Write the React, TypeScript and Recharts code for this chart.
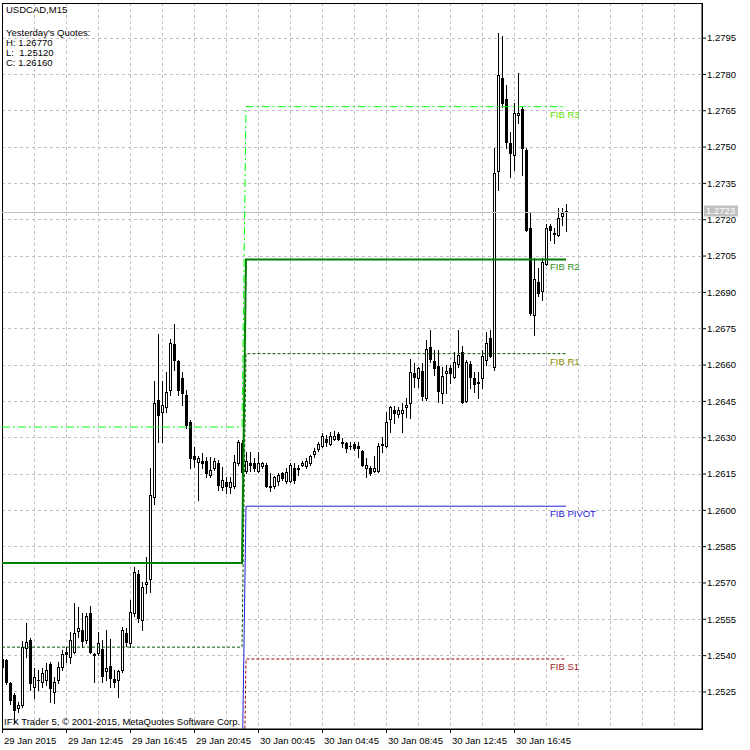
import React from "react";
import {
  ComposedChart,
  Bar,
  Line,
  XAxis,
  YAxis,
  CartesianGrid,
  ReferenceLine,
  ReferenceArea,
} from "recharts";

// USDCAD M15 candles, 29 Jan 08:45 .. 30 Jan 20:15
const opens = [
  1.25385, 1.25381, 1.25287, 1.25236, 1.25183, 1.25195, 1.25431, 1.25464, 1.2527, 1.25299,
  1.25291, 1.25299, 1.25365, 1.25249, 1.25299, 1.25352, 1.25415, 1.25394, 1.25415, 1.25501,
  1.25505, 1.25464, 1.25575, 1.25406, 1.25411, 1.25427, 1.25336, 1.25356, 1.25303, 1.25299,
  1.2534, 1.25493, 1.25452, 1.25575, 1.25736, 1.25546, 1.25695, 1.25716, 1.26054, 1.26455,
  1.26406, 1.26426, 1.26496, 1.26686, 1.26616, 1.26546, 1.26476, 1.26364, 1.26223, 1.26199,
  1.26203, 1.26203, 1.26145, 1.26174, 1.26195, 1.26096, 1.26117, 1.26096, 1.261, 1.26195,
  1.26278, 1.26162, 1.26195, 1.26195, 1.26162, 1.26182, 1.26186, 1.261, 1.261, 1.26121,
  1.26154, 1.26121, 1.26121, 1.26174, 1.26174, 1.26186, 1.26182, 1.26195, 1.26232, 1.26252,
  1.26265, 1.26294, 1.26273, 1.26294, 1.26314, 1.26282, 1.26278, 1.26265, 1.26273, 1.26265,
  1.26244, 1.26174, 1.26174, 1.26162, 1.26162, 1.26273, 1.26265, 1.26377, 1.26414, 1.26397,
  1.26401, 1.26426, 1.26443, 1.26567, 1.26546, 1.26575, 1.26463, 1.26674, 1.26616, 1.26595,
  1.26484, 1.26567, 1.26587, 1.2655, 1.26604, 1.26653, 1.26451, 1.26604, 1.26546, 1.26529,
  1.26546, 1.2662, 1.26711, 1.26591, 1.27401, 1.27785, 1.27698, 1.27516, 1.27467, 1.27632,
  1.27657, 1.27488, 1.27165, 1.26806, 1.26942, 1.26905, 1.27017, 1.27174, 1.27145, 1.27136,
  1.27215, 1.27236,
];
const highs = [
  1.25393, 1.25385, 1.25291, 1.25244, 1.25208, 1.2546, 1.25534, 1.25472, 1.25348, 1.2534,
  1.25348, 1.25369, 1.25373, 1.25311, 1.25373, 1.25423, 1.25435, 1.25497, 1.25617, 1.256,
  1.25575, 1.25575, 1.25604, 1.25411, 1.25497, 1.25464, 1.25505, 1.25468, 1.2534, 1.2534,
  1.25517, 1.25513, 1.25629, 1.25765, 1.25753, 1.25703, 1.25806, 1.26174, 1.26534, 1.26728,
  1.26534, 1.26571, 1.26707, 1.2677, 1.2662, 1.26571, 1.26496, 1.26372, 1.2626, 1.26223,
  1.26236, 1.26219, 1.26219, 1.26215, 1.26207, 1.26178, 1.26137, 1.26137, 1.26228, 1.2629,
  1.2629, 1.2624, 1.2624, 1.26215, 1.2624, 1.26199, 1.26195, 1.26154, 1.26141, 1.26154,
  1.26158, 1.26174, 1.26195, 1.26195, 1.26186, 1.26203, 1.26215, 1.26228, 1.26257, 1.26282,
  1.26319, 1.2631, 1.26323, 1.26327, 1.26323, 1.26298, 1.26282, 1.26282, 1.26282, 1.26282,
  1.26248, 1.26215, 1.26182, 1.26223, 1.26278, 1.26302, 1.26406, 1.2643, 1.2643, 1.26426,
  1.26443, 1.26463, 1.26624, 1.26608, 1.26591, 1.26608, 1.26703, 1.26744, 1.26662, 1.26662,
  1.26591, 1.266, 1.266, 1.26654, 1.26744, 1.26678, 1.2662, 1.26616, 1.26571, 1.26571,
  1.26662, 1.26736, 1.26744, 1.27496, 1.27971, 1.27958, 1.27756, 1.27562, 1.27682, 1.27806,
  1.27665, 1.27496, 1.27227, 1.27041, 1.27, 1.27041, 1.27182, 1.27182, 1.27165, 1.27248,
  1.27248, 1.27265,
];
const lows = [
  1.25332, 1.25282, 1.25199, 1.2512, 1.25167, 1.25187, 1.25393, 1.25257, 1.25224, 1.25257,
  1.2527, 1.25278, 1.25208, 1.25204, 1.25287, 1.2534, 1.25373, 1.25369, 1.25411, 1.25476,
  1.25435, 1.25452, 1.25411, 1.25291, 1.25402, 1.25291, 1.25299, 1.2527, 1.2527, 1.25228,
  1.25332, 1.25439, 1.25435, 1.25563, 1.25538, 1.25505, 1.25658, 1.25662, 1.26025, 1.26282,
  1.26282, 1.26406, 1.26476, 1.26579, 1.26476, 1.26435, 1.26339, 1.26174, 1.26178, 1.26042,
  1.26174, 1.26137, 1.26137, 1.26166, 1.26083, 1.26083, 1.26071, 1.26071, 1.26092, 1.26186,
  1.26145, 1.26154, 1.26162, 1.26162, 1.26158, 1.26174, 1.26096, 1.26079, 1.26092, 1.26104,
  1.26125, 1.26112, 1.26117, 1.26112, 1.26145, 1.26182, 1.26174, 1.26186, 1.26219, 1.26244,
  1.26261, 1.26265, 1.26269, 1.2629, 1.2629, 1.26261, 1.2624, 1.26252, 1.26248, 1.26219,
  1.26182, 1.26137, 1.26145, 1.26158, 1.26158, 1.2624, 1.26261, 1.26323, 1.2636, 1.26385,
  1.26323, 1.26385, 1.26381, 1.26509, 1.26509, 1.26455, 1.26455, 1.26612, 1.26558, 1.26447,
  1.26443, 1.26484, 1.26525, 1.26546, 1.26591, 1.26443, 1.26447, 1.26505, 1.26488, 1.26463,
  1.26505, 1.266, 1.26633, 1.26579, 1.27322, 1.27665, 1.27496, 1.27376, 1.27405, 1.27599,
  1.27384, 1.27153, 1.26806, 1.26723, 1.26885, 1.26868, 1.27013, 1.27116, 1.27103, 1.27132,
  1.27178, 1.27153,
];
const closes = [
  1.25352, 1.25291, 1.25216, 1.25175, 1.25195, 1.25435, 1.25456, 1.25287, 1.25311, 1.25301,
  1.25328, 1.2534, 1.25266, 1.25291, 1.25352, 1.25406, 1.25406, 1.25464, 1.25493, 1.25513,
  1.2546, 1.25563, 1.25415, 1.25404, 1.25452, 1.25315, 1.25348, 1.25307, 1.25291, 1.25336,
  1.25505, 1.25456, 1.25579, 1.25745, 1.25555, 1.25683, 1.25703, 1.26063, 1.26443, 1.26393,
  1.26435, 1.26488, 1.2669, 1.2662, 1.26496, 1.26484, 1.26352, 1.26215, 1.26211, 1.26215,
  1.26195, 1.26154, 1.26166, 1.26203, 1.26104, 1.26125, 1.261, 1.26117, 1.26199, 1.26282,
  1.2616, 1.26203, 1.26186, 1.26174, 1.26195, 1.26195, 1.261, 1.26096, 1.26137, 1.26145,
  1.26133, 1.26158, 1.26186, 1.26125, 1.26172, 1.26195, 1.26203, 1.26223, 1.26244, 1.26273,
  1.26306, 1.26282, 1.26306, 1.26306, 1.26294, 1.2628, 1.26257, 1.26267, 1.26257, 1.26257,
  1.26186, 1.26186, 1.26154, 1.26174, 1.26265, 1.26271, 1.26364, 1.26426, 1.26401, 1.26414,
  1.26414, 1.26435, 1.26571, 1.2655, 1.26587, 1.26472, 1.26666, 1.26624, 1.26587, 1.26492,
  1.26554, 1.26575, 1.26567, 1.26612, 1.26641, 1.26447, 1.26612, 1.2655, 1.26521, 1.26527,
  1.26637, 1.2669, 1.26637, 1.27393, 1.27797, 1.27682, 1.27521, 1.27475, 1.2764, 1.2764,
  1.27496, 1.27157, 1.26814, 1.26955, 1.26897, 1.27025, 1.27165, 1.27157, 1.27143, 1.27207,
  1.27227, 1.2723,
];

// Fibonacci pivot levels per day: R3, R2, R1, Pivot, S1
const levelKeys = ["r3", "r2", "r1", "pp", "s1"];
const levelNames = ["FIB R3", "FIB R2", "FIB R1", "FIB PIVOT", "FIB S1"];
const levels29Jan = [1.26344, 1.25782, 1.25435, 1.24875, 1.24314];
const levels30Jan = [1.27667, 1.27036, 1.26647, 1.26017, 1.25386];
const firstBar30Jan = 61;

const priceTicks = [
  1.2525, 1.254, 1.2555, 1.257, 1.2585, 1.26, 1.2615, 1.263, 1.2645, 1.266,
  1.2675, 1.269, 1.2705, 1.272, 1.2735, 1.275, 1.2765, 1.278, 1.2795,
];
const timeLabels = [
  "29 Jan 2015", "29 Jan 12:45", "29 Jan 16:45", "29 Jan 20:45", "30 Jan 00:45",
  "30 Jan 04:45", "30 Jan 08:45", "30 Jan 12:45", "30 Jan 16:45",
];
const quoteLines = ["Yesterday's Quotes:", "H: 1.26770", "L:  1.25120", "C: 1.26160"];
const bidPrice = 1.2723;

const SLOTS = 175;
const Y_MIN = 1.25097;
const Y_MAX = 1.28095;
const FONT = "'Liberation Sans', Arial, sans-serif";
const FS = 9.5;
const LABEL_BAR = 137;

const levelStyle = [
  { stroke: "#00ff00", width: 1, dash: "8 3 2 3", text: "#66e000" },
  { stroke: "#008000", width: 2, dash: undefined, text: "#2f8f10" },
  { stroke: "#005a00", width: 1, dash: "3 2", text: "#8a8a00" },
  { stroke: "#2020d8", width: 1, dash: undefined, text: "#2020d8" },
  { stroke: "#a00000", width: 1, dash: "3 2", text: "#a02020" },
];

const rows = Array.from({ length: SLOTS }, (_, i) => {
  const row: Record<string, any> = { i };
  if (i < closes.length) {
    row.range = [lows[i], highs[i]];
    row.o = opens[i];
    row.h = highs[i];
    row.l = lows[i];
    row.c = closes[i];
    const lv = i < firstBar30Jan ? levels29Jan : levels30Jan;
    levelKeys.forEach((k, j) => (row[k] = lv[j]));
  }
  return row;
});

const gridBars = Array.from({ length: 22 }, (_, k) => k * 8);

const Candle = (props: any) => {
  const { x, y, width, height, payload } = props;
  if (!payload || payload.c == null) return null;
  const { o, h, l, c } = payload;
  const cx = Math.round(x + width / 2);
  const k = h > l ? height / (h - l) : 0;
  const at = (v: number) => Math.round(y + (h - v) * k);
  const yHigh = at(h);
  const yLow = at(l);
  const top = at(Math.max(o, c));
  const bottom = at(Math.min(o, c));
  return (
    <g shapeRendering="crispEdges">
      <rect x={cx} y={yHigh} width={1} height={Math.max(1, yLow - yHigh + 1)} fill="#000" />
      <rect x={cx - 1} y={top} width={3} height={Math.max(1, bottom - top + 1)} fill="#000" />
      {c > o && bottom - top > 1 && (
        <rect x={cx} y={top + 1} width={1} height={bottom - top - 1} fill="#fff" />
      )}
    </g>
  );
};

const TimeTick = (props: any) => {
  const { x, y, payload } = props;
  const n = payload.value / 16;
  if (!Number.isInteger(n) || n >= timeLabels.length) return null;
  return (
    <g>
      <line x1={x + 0.5} x2={x + 0.5} y1={y} y2={y + 4} stroke="#000" />
      <text x={x + 2} y={y + 15} fontSize={FS} fill="#000">
        {timeLabels[n]}
      </text>
    </g>
  );
};

const levelLabel = (text: string, color: string) => (props: any) => {
  if (props.index !== LABEL_BAR) return null;
  const px = props.x ?? props.viewBox?.x;
  const py = props.y ?? props.viewBox?.y;
  return (
    <text x={px} y={py + 11} fontSize={FS} fill={color}>
      {text}
    </text>
  );
};

const BidLabel = (props: any) => {
  const { x, y, width } = props.viewBox;
  return (
    <g>
      <rect x={x + width + 2} y={y - 7} width={34} height={11} fill="#c0c0c0" />
      <text x={x + width + 4} y={y + 2} fontSize={FS} fill="#fff">
        {bidPrice.toFixed(4)}
      </text>
    </g>
  );
};

export default function App() {
  return (
    <div style={{ position: "absolute", left: 0, top: 0, width: 750, height: 750, background: "#fff", fontFamily: FONT }}>
      <ComposedChart
        width={750}
        height={750}
        data={rows}
        margin={{ top: 3, right: 0, bottom: 0, left: 2 }}
        style={{ fontFamily: FONT }}
      >
        <CartesianGrid stroke="#c0c0c0" strokeDasharray="3 3" shapeRendering="crispEdges" />
        <XAxis
          dataKey="i"
          type="number"
          domain={[0, SLOTS]}
          allowDataOverflow
          ticks={gridBars}
          interval={0}
          height={21}
          tickSize={0}
          tickMargin={0}
          tickLine={false}
          axisLine={{ stroke: "#000" }}
          tick={<TimeTick />}
        />
        <YAxis
          orientation="right"
          width={48}
          domain={[Y_MIN, Y_MAX]}
          allowDataOverflow
          ticks={priceTicks}
          interval={0}
          tickFormatter={(v: number) => v.toFixed(4)}
          tick={{ fill: "#000", fontSize: FS }}
          tickSize={4}
          tickMargin={1}
          tickLine={{ stroke: "#000" }}
          axisLine={{ stroke: "#000" }}
        />
        <ReferenceLine y={bidPrice} stroke="#c0c0c0" shapeRendering="crispEdges" label={BidLabel} />
        <Bar dataKey="range" barSize={4} shape={Candle} isAnimationActive={false} />
        {levelKeys.map((k, j) => (
          <Line
            key={k}
            dataKey={k}
            type="linear"
            stroke={levelStyle[j].stroke}
            strokeWidth={levelStyle[j].width}
            strokeDasharray={levelStyle[j].dash}
            dot={false}
            activeDot={false}
            isAnimationActive={false}
            label={levelLabel(levelNames[j], levelStyle[j].text)}
          />
        ))}
        <ReferenceArea
          x1={0}
          x2={SLOTS}
          y1={Y_MIN}
          y2={Y_MAX}
          fill="none"
          stroke="#000"
          shapeRendering="crispEdges"
        />
      </ComposedChart>
      <svg
        width={750}
        height={750}
        style={{ position: "absolute", left: 0, top: 0, pointerEvents: "none" }}
      >
        <text x={6} y={13} fontSize={FS} fill="#000">USDCAD,M15</text>
        {quoteLines.map((t, n) => (
          <text key={t} x={6} y={35.5 + n * 10} fontSize={FS} fill="#000" style={{ whiteSpace: "pre" }}>
            {t}
          </text>
        ))}
        <text x={4} y={725} fontSize={FS} fill="#000">
          IFX Trader 5, © 2001-2015, MetaQuotes Software Corp.
        </text>
      </svg>
    </div>
  );
}
